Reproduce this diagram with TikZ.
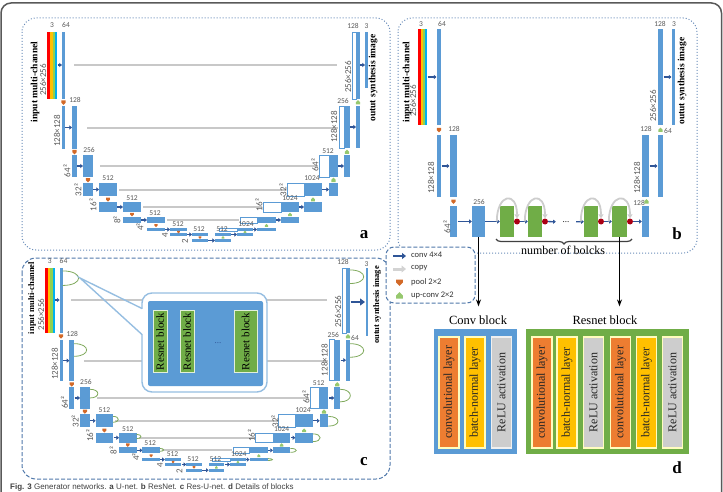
\documentclass[tikz,border=0pt]{standalone}
\usepackage{fontspec}
\setmainfont{Liberation Serif}
\setsansfont{Liberation Sans}
\newfontfamily\carlito{Carlito}
\usepackage{tikz}
\usetikzlibrary{arrows.meta}
\usetikzlibrary{calc}
\usetikzlibrary{decorations.pathreplacing}

\definecolor{ublue}{RGB}{91,155,213}
\definecolor{dblue}{RGB}{47,85,151}
\definecolor{uorange}{RGB}{237,125,49}
\definecolor{porange}{RGB}{210,105,40}
\definecolor{ugreen}{RGB}{112,173,71}
\definecolor{upgreen}{RGB}{150,200,110}
\definecolor{uyellow}{RGB}{255,192,0}
\definecolor{ylgreen}{RGB}{146,208,80}
\definecolor{ucyan}{RGB}{0,176,240}
\definecolor{ugray}{RGB}{200,200,200}
\definecolor{bgray}{RGB}{205,205,205}
\definecolor{frameblue}{RGB}{105,140,185}
\definecolor{dashblue}{RGB}{80,120,170}
\definecolor{bubblue}{RGB}{150,190,225}
\definecolor{txtgray}{RGB}{89,89,89}
\definecolor{dred}{RGB}{170,0,20}

\newcommand{\poolmk}[3][1]{\fill[pool, shift={(#2,#3)}, scale=#1] (-2.2,-2) -- (2.2,-2) -- (2.2,0.1) -- (0,2.3) -- (-2.2,0.1) -- cycle;}
\newcommand{\upmk}[3][1]{\fill[upc, shift={(#2,#3)}, scale=#1] (-2.2,2) -- (2.2,2) -- (2.2,-0.1) -- (0,-2.3) -- (-2.2,-0.1) -- cycle;}

% one U-net, in the pixel frame of panel a
\newcommand{\unetbody}{%
  % copy paths
  \foreach \yy/\xs/\xe in {65/74/337, 128/87/338, 166/100/318, 190/119/286, 207/143/262, 220/167/239}
    {\draw[copyln] (\xs,\yy) -- (\xe,\yy);}
  % input channels
  \fill[red] (47,32) rectangle (50,99);
  \fill[uyellow] (50,32) rectangle (52.5,99);
  \fill[ylgreen] (52.5,32) rectangle (54.8,99);
  \fill[ucyan] (54.8,32) rectangle (57,99);
  \fill[blk] (62,32) rectangle (65,99);
  \draw[conv] (57.5,65) -- (62,65);
  % contracting path
  \foreach \ya/\yb/\ax/\bx/\cx/\dx in {106/149/62/65/72/77, 155/177/72/77/83/93, 183/196/83/93/99/117,
      202/212/99/117/123/141, 217/223/123/141/147/165, 228/231/147/165/170/187,
      233/236/170/187/192/208, 239/242/192/208/215/231}
    {\fill[blk] (\ax,\ya) rectangle (\bx,\yb);
     \fill[blk] (\cx,\ya) rectangle (\dx,\yb);
     \draw[conv] (\bx+0.4,{(\ya+\yb)/2}) -- (\cx,{(\ya+\yb)/2});}
  % expanding path
  \foreach \ya/\yb/\wx/\bx/\ex/\rx/\rr in {106/148/339/344/350/356/360, 155/177/319/329/338/344/350,
      183/196/287/304/322/329/338, 202/212/263/281/299/304/322, 217/223/240/257/276/281/299,
      228/231/219/237/253/257/276}
    {\draw[wbox] (\wx,\ya) rectangle (\bx,\yb);
     \fill[blk] (\bx,\ya) rectangle (\ex,\yb);
     \fill[blk] (\rx,\ya) rectangle (\rr,\yb);
     \draw[conv] (\ex+0.4,{(\ya+\yb)/2}) -- (\rx,{(\ya+\yb)/2});}
  \fill[blk] (215,233) rectangle (231,236);
  \fill[blk] (237,233) rectangle (253,236);
  \draw[conv] (231.4,234.5) -- (237,234.5);
  \draw[wbox] (352,32) rectangle (356,99);
  \fill[blk] (356,32) rectangle (360,99);
  % pool / up-conv
  \foreach \xx/\yy/\ss in {63.5/102.5/1, 74.5/152/1, 88/180/1, 108/199.5/0.9, 132/214.5/0.8,
      156/225.5/0.7, 178.5/232/0.6, 200/237.5/0.6}
    {\poolmk[\ss]{\xx}{\yy}}
  \foreach \xx/\yy/\ss in {358/102.5/1, 347/152/1, 333.5/180/1, 313/199.5/0.9, 290/214.5/0.8,
      266.5/225.5/0.7, 245/232/0.6, 223/237.5/0.6}
    {\upmk[\ss]{\xx}{\yy}}
  % channel numbers
  \foreach \xx/\yy/\lab [count=\i] in {52/25/3, 66/25/64, 75/100/128, 89/150/256, 108/178/512,
      132/198/512, 155/213/512, 178/224/512, 199/229.5/512, 222/229.5/512, 353/26/128,
      343/101/256, 328/151/512, 312/178/1024, 290/198/1024, 246/224/1024}
    {\node[chlab] (ch\i) at (\xx,\yy) {\lab};}
  % feature map sizes
  \foreach \xx/\yy/\lab [count=\i] in {43/80/256×256, 57/131/128×128, 67/171/64², 78/190/32²,
      93/205/16², 117/220/8², 140/227/4², 165/235/4, 185/241/2, 348/77/256×256,
      334/127/128×128, 315/165/64², 283/190/32², 259/205/16²}
    {\node[szlab] (sz\i) at (\xx,\yy) {\lab};}
}

\begin{document}
\begin{tikzpicture}[
    x=1pt, y=-1pt,
    blk/.style={fill=ublue},
    wbox/.style={draw=ublue, fill=white, line width=0.7pt},
    conv/.style={draw=dblue, line width=1.3pt, -{Triangle[length=2.6pt,width=4pt]}},
    copyln/.style={draw=ugray, line width=1.8pt},
    pool/.style={fill=porange},
    upc/.style={fill=upgreen},
    resarc/.style={draw=upgreen!85!black, line width=0.8pt},
    skiparc/.style={draw=bgray, line width=1.8pt, -{Triangle[length=4pt,width=5pt]}},
    chlab/.style={font=\carlito\fontsize{7.5}{8}\selectfont, text=txtgray, inner sep=0pt},
    szlab/.style={font=\carlito\fontsize{9}{10}\selectfont, text=txtgray, inner sep=0pt, rotate=90},
    iolab/.style={font=\bfseries\fontsize{9.5}{10}\selectfont, inner sep=0pt, rotate=90},
    panel/.style={draw=frameblue, dotted, line width=1pt, rounded corners=14pt},
    cpanel/.style={draw=dashblue, dash pattern=on 4pt off 2pt, line width=1pt, rounded corners=14pt},
    plab/.style={font=\bfseries\fontsize{17}{18}\selectfont, inner sep=0pt},
    gblk/.style={fill=ugreen, inner sep=0pt, minimum width=14pt, minimum height=31pt},
    rdot/.style={circle, fill=dred, inner sep=0pt, minimum size=6pt},
    rblk/.style={fill=ugreen, draw=white!80!ugreen, line width=1pt, rotate=90, inner sep=0pt,
      minimum width=62pt, font=\fontsize{11}{12}\selectfont},
    layer/.style={draw=white!75!yellow, line width=1.3pt, rotate=90, inner sep=0pt,
      minimum width=111pt, minimum height=20pt, font=\fontsize{12}{13}\selectfont, text=black!85},
    legtxt/.style={font=\carlito\fontsize{8.5}{9}\selectfont, text=black!80, anchor=west, inner sep=0pt},
    downarr/.style={line width=1.3pt, -{Stealth[length=7pt,width=5pt]}, shorten >=9pt}
    ]
  \useasboundingbox (0,0) rectangle (723,492);
  \clip (0,0) rectangle (723,492);
  \draw[line width=1.5pt, draw=black!65, rounded corners=10pt] (1,3) rectangle (721.5,540);

  % ---- panel a : U-net
  \draw[panel] (22,18) rectangle (390,250);
  \unetbody
  \fill[blk] (365,32) rectangle (367.5,88);
  \draw[conv] (360.4,65) -- (365,65);
  \node[chlab] (aout3) at (366.5,26) {3};
  \node[iolab] (ain) at (35,82) {input multi-channel};
  \node[iolab] (aout) at (373,78) {outut synthesis image};
  \node[plab] (alab) at (364,235) {a};

  % ---- panel c : U-net with residual blocks
  \draw[cpanel] (22,258) rectangle (390,479);
  \begin{scope}[shift={(-0.78,236.96)}, xscale=0.974, yscale=0.97]
    \unetbody
    \foreach \xx/\ya/\yb/\dd in {65/35/50/22, 77/110/123/17, 93/157/166/11, 117/185/191/7,
        141/203.5/208/6, 165/218/221/5, 360/34/48/19, 360/110/124/19, 350/157/170/14,
        338/185/195/13, 322/203/211/10, 299/218/222/8, 276/228.5/230.5/6}
      {\draw[resarc] (\xx,\ya) .. controls (\xx+\dd,\ya) and (\xx+\dd,\yb) .. (\xx,\yb);}
  \end{scope}
  \fill[blk] (365.5,268) rectangle (367.5,336);
  \draw[conv, line width=2.4pt, -{Triangle[length=5pt,width=7pt]}] (350.5,302) -- (365,302);
  \node[chlab] (cout3) at (366.5,264) {3};
  \node[chlab] (c64) at (355,338) {64};
  \node[iolab, font=\bfseries\fontsize{8.5}{9}\selectfont] (cin) at (32,298) {input multi-channel};
  \node[iolab, font=\bfseries\fontsize{8.5}{9}\selectfont] (cout) at (377,305) {outut synthesis image};
  % zoomed residual part
  \draw[bubblue, line width=1.4pt, fill=white, rounded corners=10pt] (142,293) rectangle (267,392);
  \fill[white] (140.5,309) rectangle (143.5,334);
  \draw[bubblue, line width=1.4pt] (142,308.5) -- (80,278) -- (142,334.5);
  \fill[ublue, rounded corners=2pt] (148,301) rectangle (263,386);
  \node[rblk, minimum height=14pt] (rb1) at (160,341.5) {Resnet block};
  \node[rblk, minimum height=14pt] (rb2) at (187,341.5) {Resnet block};
  \node[font=\fontsize{9}{9}\selectfont, text=dblue] (rbdots) at (218,343) {...};
  \node[rblk, minimum height=23pt] (rb3) at (245.5,341.5) {Resnet block};
  \node[plab] (clab) at (364,462) {c};

  % ---- panel b : ResNet
  \draw[panel] (398,18) rectangle (697,253);
  \fill[red] (418,29) rectangle (420.5,125);
  \fill[uyellow] (420.5,29) rectangle (422.5,125);
  \fill[ylgreen] (422.5,29) rectangle (424.5,125);
  \fill[ucyan] (424.5,29) rectangle (427,125);
  \fill[blk] (437,29) rectangle (441,125);
  \draw[conv] (427.5,77) -- (436.5,77);
  \poolmk{439}{130}
  \fill[blk] (437,135) rectangle (441,197);
  \fill[blk] (450,135) rectangle (457,197);
  \draw[conv] (441.5,166) -- (449.5,166);
  \poolmk{453.5}{201.5}
  \fill[blk] (450,206) rectangle (457,237);
  \node[blk, inner sep=0pt, minimum width=13pt, minimum height=31pt] (b256) at (478.5,221.5) {};
  \draw[conv] (457.5,221.5) -- (b256.west);
  \node[gblk] (g1) at (507,221.5) {};
  \node[rdot] (r1) at (517,221.5) {};
  \node[gblk] (g2) at (535,221.5) {};
  \node[rdot] (r2) at (545,221.5) {};
  \node[font=\fontsize{9}{9}\selectfont, inner sep=0pt, minimum width=20pt] (bdots) at (566,222) {...};
  \node[gblk] (g3) at (591,221.5) {};
  \node[rdot] (r3) at (601,221.5) {};
  \node[gblk, minimum width=15pt] (g4) at (619.5,221.5) {};
  \node[rdot] (r4) at (630,221.5) {};
  \node[blk, inner sep=0pt, minimum width=7pt, minimum height=31pt] (bout) at (645.5,221.5) {};
  \draw[conv] (b256) -- (g1);
  \draw[conv] (r1) -- (g2);
  \draw[conv] (r2) -- (bdots);
  \draw[conv] (bdots) -- (g3);
  \draw[conv] (r3) -- (g4);
  \draw[conv] (r4) -- (bout);
  \foreach \g/\r in {g1/r1, g2/r2, g3/r3, g4/r4}
    {\draw[skiparc] ([xshift=-3pt]\g.west) .. controls +(0,-28) and +(0,-28) .. (\r.north);}
  \fill[blk] (642,135) rectangle (649,197);
  \fill[blk] (658,135) rectangle (663,197);
  \draw[conv] (649.5,166) -- (657.5,166);
  \fill[blk] (658,29) rectangle (663,125);
  \fill[blk] (672,29) rectangle (674.5,125);
  \draw[conv] (663.5,77) -- (671.5,77);
  \foreach \xx/\yy/\lab [count=\i] in {421/24/3, 442/24/64, 454/129/128, 479/202/256,
      646/129/128, 668/131/64, 660/24/128, 674/24/3}
    {\node[chlab] (bch\i) at (\xx,\yy) {\lab};}
  \node[chlab, anchor=east] (bch9) at (645,202.5) {128};
  \upmk{646.5}{201.5}
  \upmk{660.5}{130}
  \foreach \xx/\yy/\lab [count=\i] in {413/101/256×256, 431/178/128×128, 447/227/64²,
      637/178/128×128, 653/106/256×256}
    {\node[szlab] (bsz\i) at (\xx,\yy) {\lab};}
  \node[iolab] (bin) at (407,82) {input multi-channel};
  \node[iolab] (bout2) at (682,81) {outut synthesis image};
  \draw[decorate, decoration={brace, amplitude=5pt}, line width=1.2pt, draw=black!75] (632,239) -- (496,239);
  \node[font=\fontsize{12}{12}\selectfont, inner sep=0pt] (nblk) at (563,250) {number of bolcks};
  \node[plab] (blab) at (677,234) {b};

  % ---- legend
  \draw[cpanel, fill=white, rounded corners=8pt] (386,247) rectangle (475,303);
  \draw[conv, line width=2pt, -{Triangle[length=4pt,width=6pt]}] (393,256) -- (406,256);
  \draw[draw=ugray!80, line width=3pt, -{Triangle[length=4.5pt,width=7pt]}] (393,269) -- (406,269);
  \poolmk[1.5]{399.5}{282.5}
  \upmk[1.5]{399.5}{295.5}
  \node[legtxt] (lg1) at (411,255) {conv 4×4};
  \node[legtxt] (lg2) at (411,268.5) {copy};
  \node[legtxt] (lg3) at (411,282) {pool 2×2};
  \node[legtxt] (lg4) at (411,295.5) {up-conv 2×2};

  % ---- panel d : blocks
  \node[font=\fontsize{12.5}{13}\selectfont, inner sep=0pt] (convttl) at (478,320) {Conv block};
  \node[font=\fontsize{12.5}{13}\selectfont, inner sep=0pt] (resttl) at (605,320) {Resnet block};
  \node[fill=ublue, inner sep=0pt, minimum width=83pt, minimum height=125pt] (convfr) at (475.5,391.5) {};
  \node[fill=ugreen, inner sep=0pt, minimum width=163pt, minimum height=125pt] (resfr) at (607.5,391.5) {};
  \node[layer, fill=uorange] (cl1) at (449,392.5) {convolutional layer};
  \node[layer, fill=uyellow] (cl2) at (475,392.5) {batch-normal layer};
  \node[layer, fill=bgray, draw=white!70!bgray] (cl3) at (501.5,392.5) {ReLU activation};
  \foreach \xx/\col/\lab [count=\i] in {542/uorange/convolutional layer, 567/uyellow/batch-normal layer,
      593.5/bgray/ReLU activation, 620.5/uorange/convolutional layer, 646.5/uyellow/batch-normal layer,
      672.5/bgray/ReLU activation}
    {\node[layer, fill=\col] (rl\i) at (\xx,392.5) {\lab};}
  \draw[downarr] (b256.south) -- (b256.south |- convttl.north);
  \draw[downarr] (g4.south) -- (g4.south |- resttl.north);
  \node[plab] (dlab) at (677,468) {d};

  % ---- caption
  \node[anchor=base west, font=\sffamily\fontsize{8}{9}\selectfont, text=black!75, inner sep=0pt] (cap) at (10,489.5)
    {\textbf{Fig. 3} Generator networks. \textbf{a} U-net. \textbf{b} ResNet. \textbf{c} Res-U-net. \textbf{d} Details of blocks};
\end{tikzpicture}
\end{document}
